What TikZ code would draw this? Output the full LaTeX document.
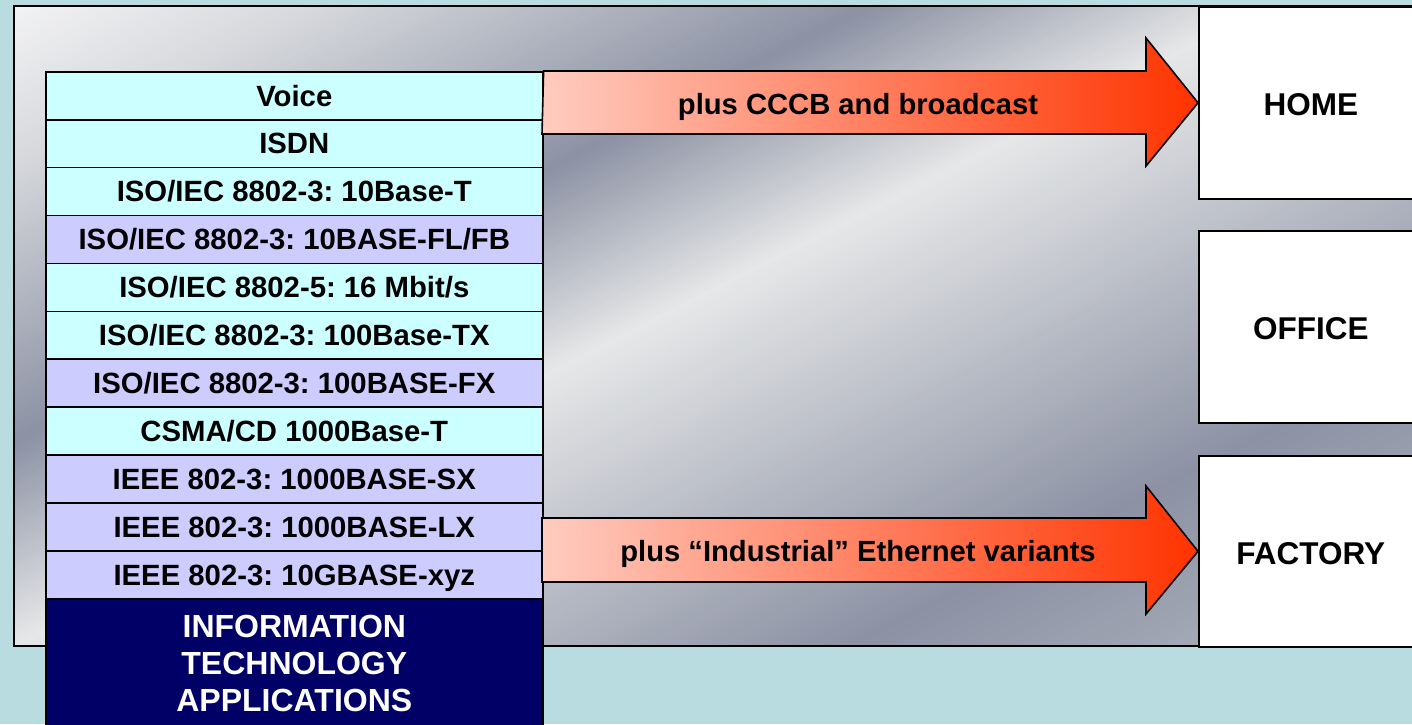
\documentclass[tikz,border=0pt]{standalone}
\usepackage{fontspec}
\setmainfont{Liberation Sans}
\usetikzlibrary{calc}
\definecolor{bgteal}{HTML}{B9DCE0}
\definecolor{cyanrow}{HTML}{CCFFFF}
\definecolor{lavrow}{HTML}{CCCCFF}
\definecolor{navybox}{HTML}{000066}
\definecolor{arrowL}{HTML}{FFCCC0}
\definecolor{arrowR}{HTML}{FF3300}
\definecolor{ga}{HTML}{F5F5F6}
\definecolor{gb}{HTML}{D6D8DC}
\definecolor{gc}{HTML}{8C92A4}
\definecolor{gd}{HTML}{E6E7E8}
\definecolor{ge}{HTML}{8C92A4}
\definecolor{gf}{HTML}{B4B8C2}
\tikzset{
  rowbox/.style={draw=black, line width=1.6pt, minimum width=497pt, minimum height=47.9pt,
    anchor=north west, inner sep=0pt, text height=20.6pt, text depth=0pt,
    font=\fontsize{29.3}{34}\selectfont\bfseries},
  cyanbox/.style={rowbox, fill=cyanrow},
  lavbox/.style={rowbox, fill=lavrow},
  placebox/.style={draw=black, line width=1.6pt, fill=white, minimum width=224pt, minimum height=192pt,
    anchor=north west, inner sep=0pt, text height=26pt, text depth=0pt,
    font=\fontsize{31.5}{38}\selectfont\bfseries},
  bigarrow/.style={draw=black, line width=1.6pt, left color=arrowL, right color=arrowR},
  arrowtext/.style={font=\fontsize{29.2}{34}\selectfont\bfseries, inner sep=0pt, anchor=base}
}
\begin{document}
\frenchspacing
\begin{tikzpicture}[x=1pt,y=-1pt,line join=miter]
\useasboundingbox (0,0) rectangle (1412,724);
\fill[bgteal] (0,0) rectangle (1412,724);
% gradient panel
\begin{scope}
\clip (14,6) rectangle (1413,646);
\foreach \a in {0,4,...,1232}{
  \pgfmathsetmacro\m{\a+2}
  \ifdim\m pt<150pt
    \pgfmathtruncatemacro\p{\m/150*100}\colorlet{sc}{gb!\p!ga}
  \else\ifdim\m pt<400pt
    \pgfmathtruncatemacro\p{(\m-150)/250*100}\colorlet{sc}{gc!\p!gb}
  \else\ifdim\m pt<580pt
    \pgfmathtruncatemacro\p{(\m-400)/180*100}\colorlet{sc}{gd!\p!gc}
  \else\ifdim\m pt<960pt
    \pgfmathtruncatemacro\p{(\m-580)/380*100}\colorlet{sc}{ge!\p!gd}
  \else
    \pgfmathtruncatemacro\p{min(100,(\m-960)/270*100)}\colorlet{sc}{gf!\p!ge}
  \fi\fi\fi\fi
  \fill[sc] ({\a*0.454-1782},{\a*0.891+908}) -- ({\a*0.454+1782},{\a*0.891-908})
    -- ({(\a+5)*0.454+1782},{(\a+5)*0.891-908}) -- ({(\a+5)*0.454-1782},{(\a+5)*0.891+908}) -- cycle;
}
\end{scope}
\draw[line width=1.6pt] (1414,6) -- (14,6) -- (14,646) -- (1414,646);
% destination boxes
\node[placebox] (home) at (1198,6) {HOME};
\node[placebox] (office) at (1198,230) {OFFICE};
\node[placebox, minimum height=191pt] (factory) at (1198,455) {FACTORY};
% stack of rows
\node[cyanbox] (r1) at (45,71.0) {Voice};
\node[cyanbox] (r2) at (45,118.9) {ISDN};
\node[cyanbox] (r3) at (45,166.8) {ISO/IEC 8802-3: 10Base-T};
\node[lavbox] (r4) at (45,214.7) {ISO/IEC 8802-3: 10BASE-FL/FB};
\node[cyanbox] (r5) at (45,262.6) {ISO/IEC 8802-5: 16 Mbit/s};
\node[cyanbox] (r6) at (45,310.5) {ISO/IEC 8802-3: 100Base-TX};
\node[lavbox] (r7) at (45,358.4) {ISO/IEC 8802-3: 100BASE-FX};
\node[cyanbox] (r8) at (45,406.3) {CSMA/CD 1000Base-T};
\node[lavbox] (r9) at (45,454.2) {IEEE 802-3: 1000BASE-SX};
\node[lavbox] (r10) at (45,502.1) {IEEE 802-3: 1000BASE-LX};
\node[lavbox] (r11) at (45,550.0) {IEEE 802-3: 10GBASE-xyz};
\node[draw=black, line width=1.6pt, fill=navybox, text=white, minimum width=497pt, minimum height=130pt,
  anchor=north west, inner sep=0pt, align=center,
  font=\fontsize{32}{37}\selectfont\bfseries] (it) at (45,598) {INFORMATION\\TECHNOLOGY\\APPLICATIONS};
% arrows
\path[bigarrow] (r1.north east) -- (1146,71) -- (1146,38) -- (home.west) -- (1146,166) -- (1146,134) -- (542,134) -- cycle;
\node[arrowtext] (t1) at (858,114.5) {plus CCCB and broadcast};
\path[bigarrow] (542,518) -- (1146,518) -- (1146,486) -- (factory.west) -- (1146,614) -- (1146,582) -- (542,582) -- cycle;
\node[arrowtext] (t2) at (858,561) {plus “Industrial” Ethernet variants};
\end{tikzpicture}
\end{document}
